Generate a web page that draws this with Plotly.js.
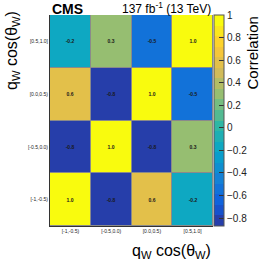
<!DOCTYPE html>
<html><head><meta charset="utf-8">
<script src="https://cdn.plot.ly/plotly-3.0.1.min.js"></script>
<style>html,body{margin:0;padding:0;background:#fff;}#chart{width:266px;height:263px;}</style>
</head><body><div id="chart"></div>
<script>
const xLabels = ["[-1,-0.5)", "[-0.5,0.0)", "[0.0,0.5)", "[0.5,1.0]"];
const yLabels = ["[-1,-0.5)", "[-0.5,0.0)", "[0.0,0.5)", "[0.5,1.0]"];
const row0 = [1.0, -0.8, 0.6, -0.2];
const row1 = [-0.8, 1.0, -0.8, 0.3];
const row2 = [0.6, -0.8, 1.0, -0.5];
const row3 = [-0.2, 0.3, -0.5, 1.0];
const zMin = -0.87, zMax = 1.0;

// ROOT kBird palette stops
const R=[0.2082,0.0592,0.0780,0.0232,0.1802,0.5301,0.8186,0.9956,0.9764];
const G=[0.1664,0.3599,0.5041,0.6419,0.7178,0.7492,0.7328,0.7862,0.9832];
const B=[0.5293,0.8684,0.8385,0.7914,0.6425,0.4662,0.3499,0.1968,0.0539];
function bird(f){f=Math.min(1,Math.max(0,f));const p=f*8;const i=Math.min(7,Math.floor(p));const t=p-i;
 const c=a=>Math.round(255*(a[i]+(a[i+1]-a[i])*t));
 return `rgb(${c(R)},${c(G)},${c(B)})`;}
const nb=20, cs=[];
for(let k=0;k<nb;k++){const c=bird((k+1)/nb);cs.push([k/nb,c]);cs.push([(k+1)/nb,c]);}

const trace={type:'heatmap',x:xLabels,y:yLabels,z:[row0,row1,row2,row3],
 zmin:zMin,zmax:zMax,colorscale:cs,xgap:1,ygap:1,
 texttemplate:'%{z:.1f}',textfont:{family:'Liberation Sans',size:5,color:'#1a1a1a',weight:'bold'},
 hoverinfo:'skip',
 colorbar:{x:1.006,xanchor:'left',xpad:0,ypad:0,y:0,yanchor:'bottom',len:1,lenmode:'fraction',thickness:10,
  outlinewidth:1,outlinecolor:'#555',tickvals:[-0.8,-0.6,-0.4,-0.2,0,0.2,0.4,0.6,0.8,1],
  ticktext:['\u22120.8','\u22120.6','\u22120.4','\u22120.2','0','0.2','0.4','0.6','0.8','1'],
  ticks:'inside',ticklen:5,tickcolor:'#333',tickfont:{family:'Liberation Sans',size:10,color:'#222'},
  title:{text:'',side:'right'}}};

const layout={width:266,height:263,margin:{l:50,r:53,t:15,b:37,autoexpand:false},
 paper_bgcolor:'#fff',plot_bgcolor:'#8a8a8a',showlegend:false,
 font:{family:'Liberation Sans',color:'#222'},
 xaxis:{type:'category',showline:true,linecolor:'#333',linewidth:1,ticks:'',
  tickfont:{size:5,color:'#222'},showgrid:false,zeroline:false,fixedrange:true},
 yaxis:{type:'category',showline:true,linecolor:'#333',linewidth:1,ticks:'',
  tickfont:{size:5,color:'#222'},showgrid:false,zeroline:false,fixedrange:true},
 annotations:[
  {text:'<b>CMS</b>',xref:'paper',yref:'paper',x:0,y:1,xanchor:'left',yanchor:'bottom',yshift:-4,
   showarrow:false,font:{size:14,color:'#000'}},
  {text:'137 fb<sup>-1</sup> (13 TeV)',xref:'paper',yref:'paper',x:1,y:1,xanchor:'right',yanchor:'bottom',yshift:-3,
   showarrow:false,font:{size:12,color:'#000'}},
  {text:'q<sub>W</sub> cos(\u03b8<sub>W</sub>)',xref:'paper',yref:'paper',x:1,y:0,xanchor:'right',yanchor:'top',yshift:-14,
   showarrow:false,font:{size:16,color:'#000'}},
  {text:'q<sub>W</sub> cos(\u03b8<sub>W</sub>)',xref:'paper',yref:'paper',x:0,y:1,xanchor:'right',yanchor:'top',xshift:-26,yshift:6,
   textangle:-90,showarrow:false,font:{size:16,color:'#000'}},
  {text:'Correlation',xref:'paper',yref:'paper',x:1,y:1,xanchor:'center',yanchor:'top',xshift:39,yshift:0,
   textangle:-90,showarrow:false,font:{size:15,color:'#000'}}
 ]};
Plotly.newPlot('chart',[trace],layout,{staticPlot:true,displayModeBar:false});
</script></body></html>
